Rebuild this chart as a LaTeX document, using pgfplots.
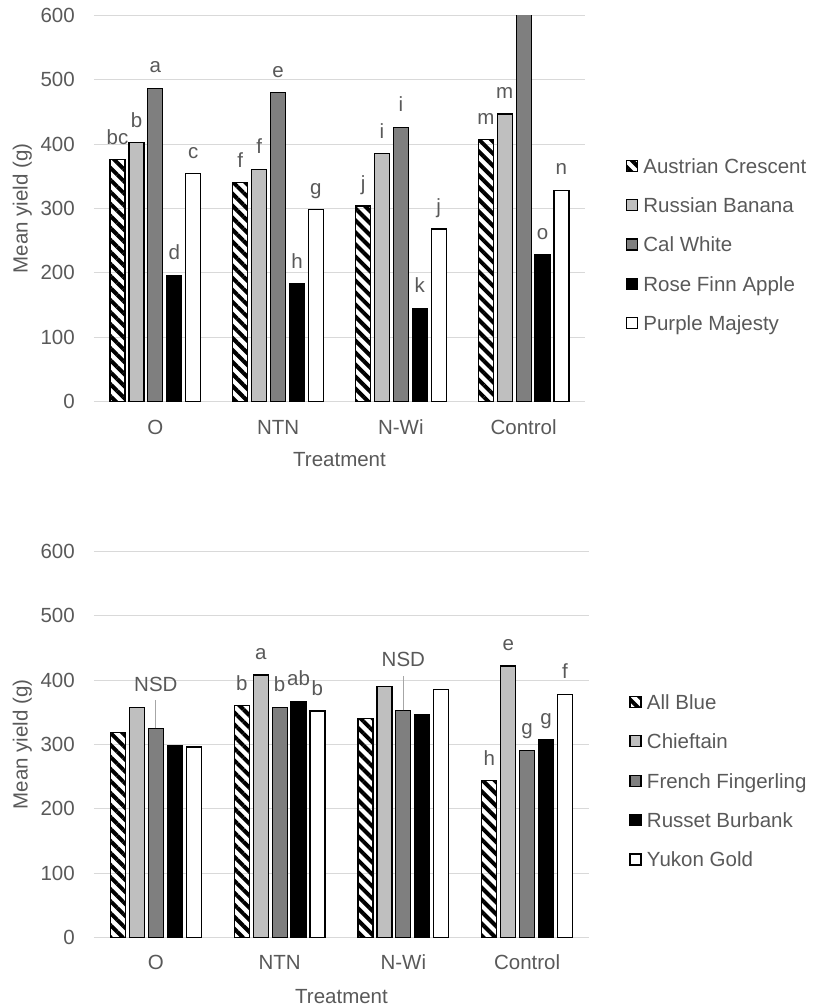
\documentclass[border=0pt]{standalone}
\usepackage{pgfplots}
\pgfplotsset{compat=1.18}
\usepackage{pgfplotstable}
\usepackage{fontspec}
\setmainfont{Liberation Sans}
\usetikzlibrary{patterns.meta}
\definecolor{txt}{HTML}{595959}
\definecolor{gridc}{HTML}{D9D9D9}
\definecolor{lgray}{HTML}{BFBFBF}
\definecolor{dgray}{HTML}{7F7F7F}
\definecolor{leadc}{HTML}{A6A6A6}

\pgfplotstableread{
x AC RB CW RF PM lAC lRB lCW lRF lPM
0 376 402 487 196 354 bc b a d c
1 340 361 480 183 298 f f e h g
2 304 385 426 145 268 j i i k j
3 407 447 650 228 328 m m {} o n
}\topdata

\pgfplotstableread{
x AB CH FF RB YG lAB lCH lFF lRB lYG
0 319 358 325 299 296 {} {} {} {} {}
1 360 408 358 367 352 b a b ab b
2 340 390 353 346 385 {} {} {} {} {}
3 244 422 291 307 378 h e g g f
}\botdata

\pgfplotsset{
  mybar/.style={ybar, bar width=15pt, bar shift=#1, draw=black, line width=1.2pt,
    nodes near coords, point meta=explicit symbolic,
    nodes near coords style={anchor=base, inner sep=0pt, xshift=#1, yshift=15.5pt, text=txt},
    legend image code/.code={\draw[##1,/tikz/.cd,line width=1.2pt] (0pt,-5.5pt) rectangle (11pt,5.5pt);}},
  hatch/.style={pattern={Lines[angle=-45,distance=8.5pt,line width=4pt]}, pattern color=black},
  baseaxis/.style={scale only axis, height=386pt,
    xmin=-0.5, xmax=3.5, ymin=0, ymax=600,
    ytick={0,100,...,600}, xtick={0,1,2,3}, xticklabels={O,NTN,N-Wi,Control},
    major tick length=0pt, axis line style={draw=none},
    ymajorgrids, grid style={gridc, line width=1pt},
    /pgf/number format/assume math mode=true,
    tick label style={text=txt}, label style={text=txt},
    yticklabel style={anchor=east, inner sep=0pt, xshift=-19pt},
    xticklabel style={anchor=base, inner sep=0pt, yshift=-33pt},
    xlabel={Treatment}, ylabel={Mean yield (g)},
    legend cell align=left,
    legend style={draw=none, fill=none, inner sep=0pt, anchor=west,
      row sep=24.8pt, column sep=5.3pt,
      nodes={text=txt, inner sep=0pt, text height=14.6pt, text depth=0pt}},
  }
}

\begin{document}
\fontsize{20.5}{24.6}\selectfont
\begin{tikzpicture}
\useasboundingbox (0,0) rectangle (812pt,1007pt);
% top chart
\begin{axis}[baseaxis, at={(94pt,605.5pt)}, anchor=south west, width=491pt,
  xlabel style={at={(axis description cs:0.5,-0.1697)}, anchor=base, inner sep=0pt},
  ylabel style={at={(axis description cs:-0.1354,0.5)}, anchor=base, inner sep=0pt},
  legend style={at={(axis description cs:1.0829,0.4067)}}]
\addplot[mybar=-37.8pt, hatch] table[x=x, y=AC, meta=lAC] {\topdata};
\addlegendentry{Austrian Crescent}
\addplot[mybar=-18.9pt, fill=lgray] table[x=x, y=RB, meta=lRB] {\topdata};
\addlegendentry{Russian Banana}
\addplot[mybar=0pt, fill=dgray] table[x=x, y=CW, meta=lCW] {\topdata};
\addlegendentry{Cal White}
\addplot[mybar=18.9pt, fill=black] table[x=x, y=RF, meta=lRF] {\topdata};
\addlegendentry{Rose Finn Apple}
\addplot[mybar=37.8pt, fill=white] table[x=x, y=PM, meta=lPM] {\topdata};
\addlegendentry{Purple Majesty}
\end{axis}
% bottom chart
\begin{axis}[baseaxis, at={(94pt,69.5pt)}, anchor=south west, width=495pt,
  xticklabel style={yshift=1.5pt},
  xlabel style={at={(axis description cs:0.5,-0.1697)}, anchor=base, inner sep=0pt},
  ylabel style={at={(axis description cs:-0.1343,0.5)}, anchor=base, inner sep=0pt},
  legend style={at={(axis description cs:1.0814,0.406)}}]
\addplot[mybar=-37.8pt, hatch] table[x=x, y=AB, meta=lAB] {\botdata};
\addlegendentry{All Blue}
\addplot[mybar=-18.9pt, fill=lgray] table[x=x, y=CH, meta=lCH] {\botdata};
\addlegendentry{Chieftain}
\addplot[mybar=0pt, fill=dgray] table[x=x, y=FF, meta=lFF] {\botdata};
\addlegendentry{French Fingerling}
\addplot[mybar=18.9pt, fill=black] table[x=x, y=RB, meta=lRB] {\botdata};
\addlegendentry{Russet Burbank}
\addplot[mybar=37.8pt, fill=white] table[x=x, y=YG, meta=lYG] {\botdata};
\addlegendentry{Yukon Gold}
\addplot[forget plot, draw=none, mark=none, nodes near coords={NSD},
  nodes near coords style={anchor=base, inner sep=0pt, yshift=37pt, text=txt},
  error bars/.cd, y dir=plus, y explicit, error mark=none,
  error bar style={draw=leadc, line width=1pt}]
  coordinates {(0,325) +- (0,44)};
\addplot[forget plot, draw=none, mark=none, nodes near coords={NSD},
  nodes near coords style={anchor=base, inner sep=0pt, yshift=44pt, text=txt},
  error bars/.cd, y dir=plus, y explicit, error mark=none,
  error bar style={draw=leadc, line width=1pt}]
  coordinates {(2,353) +- (0,53)};
\end{axis}
\end{tikzpicture}
\end{document}
